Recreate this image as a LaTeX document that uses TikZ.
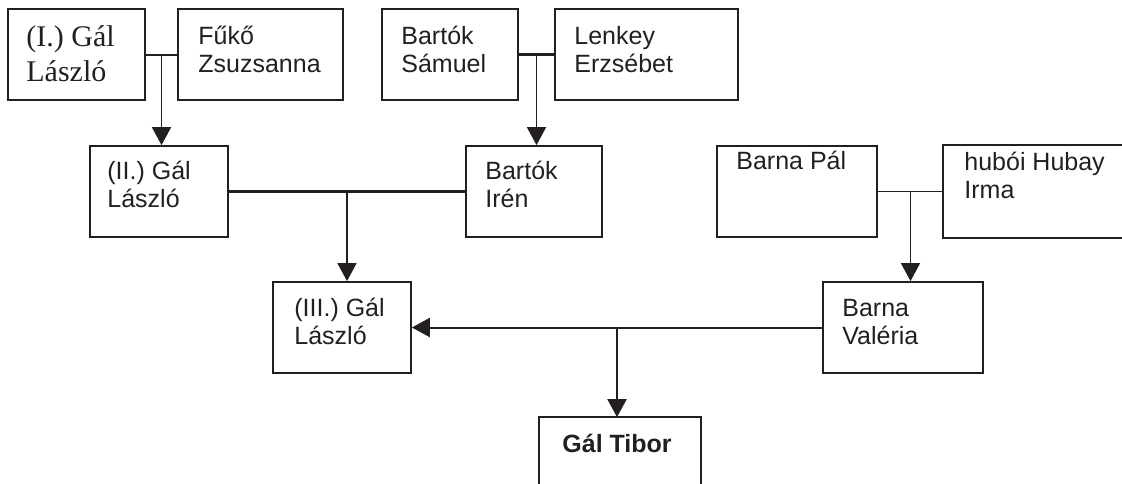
\documentclass[tikz,border=0pt]{standalone}
\usepackage{fontspec}
\setmainfont{Liberation Sans}
\newfontfamily\timesf{Liberation Serif}
\usetikzlibrary{arrows.meta,calc}
\definecolor{ink}{HTML}{231F20}
\begin{document}
\begin{tikzpicture}[x=0.75pt,y=-0.75pt,
  box/.style={draw=ink,line width=1.3pt,rectangle,inner sep=0pt,minimum height=68.25pt},
  w/.style={minimum width=#1*0.75pt},
  edge/.style={draw=ink,line width=1.3pt},
  lbl/.style={anchor=base west,inner sep=0pt,align=left,text=ink,font=\fontsize{18.75pt}{21pt}\selectfont},
  serif/.style={font=\timesf\fontsize{22.5pt}{26.25pt}\selectfont},
  arr/.style={-{Triangle[width=14.25pt,length=13.5pt]}},
  conn/.style={draw=ink,line width=#1},
  conn/.default=1.3pt]
\useasboundingbox (0,0) rectangle (1122,483);

% boxes
\node[box,w=137] (I) at (76.5,54.5) {};
\node[box,w=165] (F) at (260.5,54.5) {};
\node[box,w=136] (S) at (450,54.5) {};
\node[box,w=183] (L) at (646.5,54.5) {};
\node[box,w=138] (II) at (159,191.5) {};
\node[box,w=136] (IR) at (534,191.5) {};
\node[box,w=160] (BP) at (797,191.5) {};
\node[box,draw=none,w=190] (HI) at (1039,191.5) {};
\draw[edge] (HI.north east) -- (HI.north west) -- (HI.south west) -- (HI.south east);
\node[box,w=138] (III) at (342,327.5) {};
\node[box,w=160] (BV) at (903,327.5) {};
\node[box,draw=none,w=160] (T) at (620,463.5) {};
\draw[edge] (T.south west) -- (T.north west) -- (T.north east) -- (T.south east);

% texts (base anchor = baseline of the last line)
\node[lbl,serif] (tI) at ([shift={(19,73)}]I.north west) {(I.) Gál\\László};
\node[lbl] (tF) at ([shift={(21,64)}]F.north west) {Fűkő\\Zsuzsanna};
\node[lbl] (tS) at ([shift={(20,64)}]S.north west) {Bartók\\Sámuel};
\node[lbl] (tL) at ([shift={(20,64)}]L.north west) {Lenkey\\Erzsébet};
\node[lbl] (tII) at ([shift={(18,62)}]II.north west) {(II.) Gál\\László};
\node[lbl] (tIR) at ([shift={(20,62)}]IR.north west) {Bartók\\Irén};
\node[lbl] (tBP) at ([shift={(20,24)}]BP.north west) {Barna Pál};
\node[lbl] (tHI) at ([shift={(21,53)}]HI.north west) {hubói Hubay\\Irma};
\node[lbl] (tIII) at ([shift={(22,63)}]III.north west) {(III.) Gál\\László};
\node[lbl] (tBV) at ([shift={(20,63)}]BV.north west) {Barna\\Valéria};
\node[lbl] (tT) at ([shift={(23,35)}]T.north west) {\bfseries Gál Tibor};

% connectors
\draw[conn=1.5pt] (I) -- (F);
\coordinate (m1) at ($(I.east)!0.5!(F.west)$);
\draw[conn,arr] (m1) -- (m1 |- II.north);

\draw[conn=2pt] (S) -- (L);
\coordinate (m2) at ($(S.east)!0.5!(L.west)$);
\draw[conn,arr] (m2) -- (m2 |- IR.north);

\draw[conn=2.25pt] (II) -- (IR);
\coordinate (m3) at ($(II.east)!0.5!(IR.west)$);
\draw[conn=1pt,arr] (m3) -- (m3 |- III.north);

\draw[conn=1pt] (BP) -- (HI);
\coordinate (m4) at ($(BP.east)!0.5!(HI.west)$);
\draw[conn=1pt,arr] (m4) -- (m4 |- BV.north);

\draw[conn=1.5pt,arr] (BV) -- (III);
\coordinate (m5) at ($(BV.west)!0.5!(III.east)$);
\draw[conn=1.5pt,arr] (m5) -- (m5 |- T.north);
\end{tikzpicture}
\end{document}
